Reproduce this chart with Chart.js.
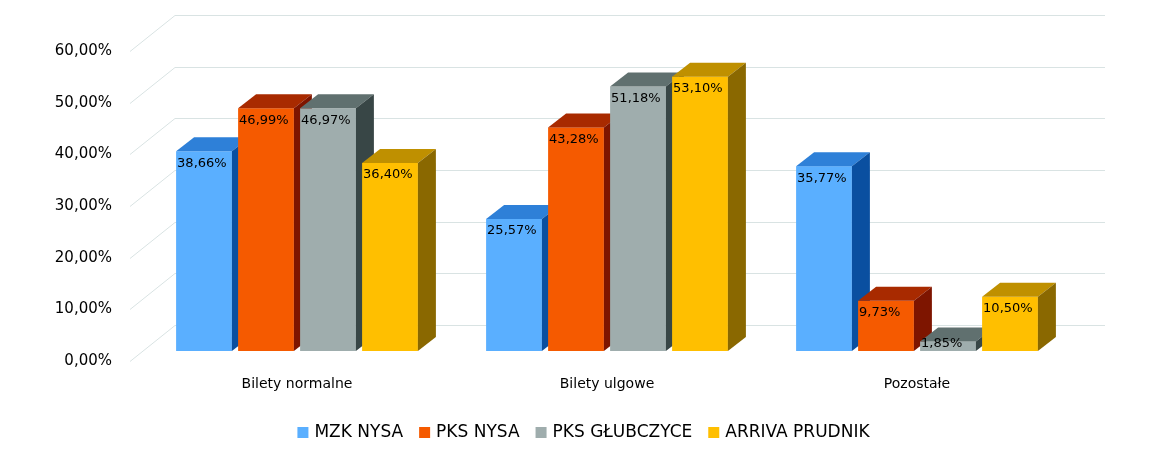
<!DOCTYPE html>
<html><head><meta charset="utf-8">
<script src="https://cdn.jsdelivr.net/npm/chart.js@4"></script>
<style>html,body{margin:0;background:#fff}#w{width:1151px;height:468px}</style>
</head><body><div id="w"><canvas id="c"></canvas></div>
<script>
const categories = ["Bilety normalne", "Bilety ulgowe", "Pozostałe"];
const seriesNames = ["MZK NYSA", "PKS NYSA", "PKS GŁUBCZYCE", "ARRIVA PRUDNIK"];
const mzk = [38.66, 25.57, 35.77];
const pksNysa = [46.99, 43.28, 9.73];
const pksGl = [46.97, 51.18, 1.85];
const arriva = [36.40, 53.10, 10.50];
const yTicks = [0, 10, 20, 30, 40, 50, 60];
const colors = [
  {front:'#5AAFFF', top:'#2E80D8', side:'#0A4FA0'},
  {front:'#F55A00', top:'#A82A00', side:'#7E1500'},
  {front:'#9FADAD', top:'#60706F', side:'#384646'},
  {front:'#FFBF00', top:'#BF9000', side:'#8A6800'}
];
const fmt = v => v.toFixed(2).replace('.', ',') + '%';
const DX = 18, DY = -14;
const FONT = '"DejaVu Sans", Verdana, sans-serif';
const plugin = {
  id: 'threeD',
  beforeDatasetsDraw(chart) {
    const ctx = chart.ctx, y = chart.scales.y;
    ctx.save();
    ctx.strokeStyle = '#D9E3E3'; ctx.lineWidth = 1;
    ctx.fillStyle = '#000'; ctx.font = '15px ' + FONT;
    ctx.textAlign = 'right'; ctx.textBaseline = 'middle';
    yTicks.forEach(t => {
      const py = Math.round(y.getPixelForValue(t)) + 0.5;
      ctx.beginPath();
      ctx.moveTo(130, py + 10); ctx.lineTo(175, py - 26); ctx.lineTo(1105, py - 26);
      ctx.stroke();
      ctx.fillText(t.toFixed(2).replace('.', ',') + '%', 112, py + 10);
    });
    ctx.restore();
  },
  afterDatasetsDraw(chart) {
    const ctx = chart.ctx;
    const metas = chart.data.datasets.map((d, i) => chart.getDatasetMeta(i));
    ctx.save();
    for (let c = 0; c < categories.length; c++) {
      metas.forEach((m, i) => {
        const b = m.data[c], col = colors[i];
        const l = b.x - b.width / 2, r = b.x + b.width / 2, t = b.y, bo = b.base;
        ctx.fillStyle = col.front; ctx.fillRect(l, t, r - l, bo - t);
        ctx.fillStyle = col.top; ctx.beginPath();
        ctx.moveTo(l, t); ctx.lineTo(l + DX, t + DY); ctx.lineTo(r + DX, t + DY); ctx.lineTo(r, t); ctx.closePath(); ctx.fill();
        ctx.fillStyle = col.side; ctx.beginPath();
        ctx.moveTo(r, t); ctx.lineTo(r + DX, t + DY); ctx.lineTo(r + DX, bo + DY); ctx.lineTo(r, bo); ctx.closePath(); ctx.fill();
      });
    }
    ctx.fillStyle = '#000'; ctx.font = '13px ' + FONT; ctx.textAlign = 'left'; ctx.textBaseline = 'middle';
    metas.forEach((m, i) => m.data.forEach((b, c) => {
      const v = chart.data.datasets[i].data[c];
      ctx.fillText(fmt(v), b.x - b.width / 2 + 1, Math.max(b.y + 12, b.y + 12) + (v < 5 ? -10 : 0));
    }));
    ctx.font = '14px ' + FONT; ctx.textAlign = 'center';
    categories.forEach((cat, c) => ctx.fillText(cat, chart.scales.x.getPixelForValue(c), 384));
    // legend
    ctx.font = '17px ' + FONT; ctx.textAlign = 'left';
    const widths = seriesNames.map(n => ctx.measureText(n).width);
    const gap = 16, box = 11, pad = 6;
    const total = widths.reduce((a, w) => a + box + pad + w, 0) + gap * (seriesNames.length - 1);
    let x = (1151 - total) / 2 + 8;
    seriesNames.forEach((n, i) => {
      ctx.fillStyle = colors[i].front; ctx.fillRect(x, 427, box, box);
      ctx.fillStyle = '#000'; ctx.fillText(n, x + box + pad, 433);
      x += box + pad + widths[i] + gap;
    });
    ctx.restore();
  }
};
new Chart(document.getElementById('c'), {
  type: 'bar',
  data: {
    labels: categories,
    datasets: [mzk, pksNysa, pksGl, arriva].map((d, i) => ({
      label: seriesNames[i], data: d, backgroundColor: 'rgba(0,0,0,0)'
    }))
  },
  options: {
    responsive: true, maintainAspectRatio: false, animation: false,
    layout: {padding: {left: 142, right: 79, top: 41, bottom: 117}},
    plugins: {legend: {display: false}, tooltip: {enabled: false}},
    scales: {
      x: {display: false, categoryPercentage: 0.73, barPercentage: 1},
      y: {display: false, min: 0, max: 60}
    }
  },
  plugins: [plugin]
});
</script></body></html>
